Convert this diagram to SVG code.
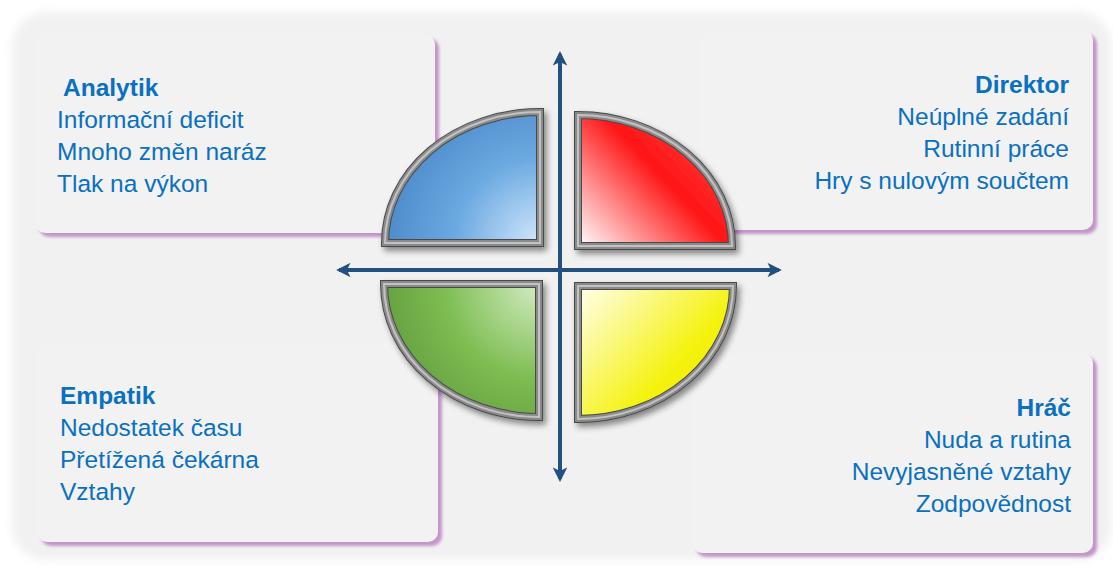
<svg xmlns="http://www.w3.org/2000/svg" width="1113" height="566" viewBox="0 0 1113 566">
  <defs>
    <filter id="panelBlur" x="-5%" y="-5%" width="110%" height="110%">
      <feGaussianBlur stdDeviation="5"/>
    </filter>
    <filter id="boxShadow" x="-5%" y="-5%" width="110%" height="110%">
      <feGaussianBlur stdDeviation="1.8"/>
    </filter>
    <filter id="qShadow" x="-20%" y="-20%" width="140%" height="140%">
      <feGaussianBlur in="SourceAlpha" stdDeviation="3"/>
      <feOffset dx="3" dy="4" result="b"/>
      <feComponentTransfer><feFuncA type="linear" slope="0.45"/></feComponentTransfer>
      <feMerge><feMergeNode/><feMergeNode in="SourceGraphic"/></feMerge>
    </filter>
    <radialGradient id="gBlue" gradientUnits="userSpaceOnUse" cx="540" cy="243" r="190">
      <stop offset="0" stop-color="#d2e8fc"/>
      <stop offset="0.45" stop-color="#6ba9e1"/>
      <stop offset="1" stop-color="#3f7cc0"/>
    </radialGradient>
    <linearGradient id="gRed" gradientUnits="userSpaceOnUse" x1="578" y1="246" x2="700" y2="130">
      <stop offset="0" stop-color="#ffffff"/>
      <stop offset="0.65" stop-color="#ff1414"/>
      <stop offset="1" stop-color="#ff3a3a"/>
    </linearGradient>
    <radialGradient id="gGreen" gradientUnits="userSpaceOnUse" cx="539" cy="284" r="190">
      <stop offset="0" stop-color="#d3ecc2"/>
      <stop offset="0.5" stop-color="#7dbd52"/>
      <stop offset="1" stop-color="#5a9237"/>
    </radialGradient>
    <linearGradient id="gYellow" gradientUnits="userSpaceOnUse" x1="578" y1="286" x2="700" y2="400">
      <stop offset="0" stop-color="#fffff0"/>
      <stop offset="0.75" stop-color="#f5f20e"/>
      <stop offset="1" stop-color="#f0ec00"/>
    </linearGradient>
    <marker id="arrow" viewBox="0 0 10 10" refX="8" refY="5" markerWidth="3.6" markerHeight="3.6" orient="auto" markerUnits="strokeWidth">
      <path d="M0,0 L10,5 L0,10 L2.5,5 Z" fill="#24507f"/>
    </marker>
    <style>
      .box { fill: #f2f2f2; }
      .boxsh { fill: #c494cb; }
      .t { font-family: "Liberation Sans", Arial, sans-serif; font-size: 24.5px; fill: #0a70c0; }
      .h { font-weight: bold; }
      .r { text-anchor: end; }
      .rim0 { fill: none; stroke: #4a4a4a; stroke-width: 8; stroke-linejoin: miter; }
      .rim { fill: none; stroke: #8a8a8a; stroke-width: 6; stroke-linejoin: miter; }
      .rim2 { fill: none; stroke: #c2c2c2; stroke-width: 2; stroke-linejoin: miter; }
      .axis { stroke: #24507f; stroke-width: 4; fill: none; }
    </style>
  </defs>

  <rect x="0" y="0" width="1113" height="566" fill="#ffffff"/>
  <rect x="12" y="12" width="1100" height="548" rx="34" fill="#f1f1f1" filter="url(#panelBlur)"/>

  <g id="analytik">
    <rect class="boxsh" x="39" y="38" width="400" height="199" rx="10" filter="url(#boxShadow)"/>
    <rect class="box" x="35" y="34" width="400" height="199" rx="10"/>
    <text class="t h" x="63" y="96">Analytik</text>
    <text class="t" x="57" y="128">Informační deficit</text>
    <text class="t" x="57" y="160">Mnoho změn naráz</text>
    <text class="t" x="57" y="192">Tlak na výkon</text>
  </g>

  <g id="direktor">
    <rect class="boxsh" x="704" y="34" width="393" height="200" rx="10" filter="url(#boxShadow)"/>
    <rect class="box" x="700" y="30" width="393" height="200" rx="10"/>
    <text class="t h r" x="1069" y="93">Direktor</text>
    <text class="t r" x="1069" y="125">Neúplné zadání</text>
    <text class="t r" x="1069" y="157">Rutinní práce</text>
    <text class="t r" x="1069" y="189">Hry s nulovým součtem</text>
  </g>

  <g id="empatik">
    <rect class="boxsh" x="41" y="346" width="401" height="200" rx="10" filter="url(#boxShadow)"/>
    <rect class="box" x="37" y="342" width="401" height="200" rx="10"/>
    <text class="t h" x="60" y="404">Empatik</text>
    <text class="t" x="60" y="436">Nedostatek času</text>
    <text class="t" x="60" y="468">Přetížená čekárna</text>
    <text class="t" x="60" y="500">Vztahy</text>
  </g>

  <g id="hrac">
    <rect class="boxsh" x="696" y="357" width="401" height="200" rx="10" filter="url(#boxShadow)"/>
    <rect class="box" x="692" y="353" width="401" height="200" rx="10"/>
    <text class="t h r" x="1071" y="416">Hráč</text>
    <text class="t r" x="1071" y="448">Nuda a rutina</text>
    <text class="t r" x="1071" y="480">Nevyjasněné vztahy</text>
    <text class="t r" x="1071" y="512">Zodpovědnost</text>
  </g>

  <g id="quadrant-blue" filter="url(#qShadow)">
    <path d="M540,243 L385,243 A155,131 0 0 1 540,112 Z" fill="url(#gBlue)"/>
    <path class="rim0" d="M540,243 L385,243 A155,131 0 0 1 540,112 Z"/>
    <path class="rim" d="M540,243 L385,243 A155,131 0 0 1 540,112 Z"/>
    <path class="rim2" d="M540,243 L385,243 A155,131 0 0 1 540,112 Z"/>
  </g>
  <g id="quadrant-red" filter="url(#qShadow)">
    <path d="M578,246 L578,115 A154,131 0 0 1 732,246 Z" fill="url(#gRed)"/>
    <path class="rim0" d="M578,246 L578,115 A154,131 0 0 1 732,246 Z"/>
    <path class="rim" d="M578,246 L578,115 A154,131 0 0 1 732,246 Z"/>
    <path class="rim2" d="M578,246 L578,115 A154,131 0 0 1 732,246 Z"/>
  </g>
  <g id="quadrant-green" filter="url(#qShadow)">
    <path d="M539,284 L539,417 A155,133 0 0 1 384,284 Z" fill="url(#gGreen)"/>
    <path class="rim0" d="M539,284 L539,417 A155,133 0 0 1 384,284 Z"/>
    <path class="rim" d="M539,284 L539,417 A155,133 0 0 1 384,284 Z"/>
    <path class="rim2" d="M539,284 L539,417 A155,133 0 0 1 384,284 Z"/>
  </g>
  <g id="quadrant-yellow" filter="url(#qShadow)">
    <path d="M578,286 L733,286 A155,133 0 0 1 578,419 Z" fill="url(#gYellow)"/>
    <path class="rim0" d="M578,286 L733,286 A155,133 0 0 1 578,419 Z"/>
    <path class="rim" d="M578,286 L733,286 A155,133 0 0 1 578,419 Z"/>
    <path class="rim2" d="M578,286 L733,286 A155,133 0 0 1 578,419 Z"/>
  </g>

  <g id="connectors">
    <line class="axis" x1="560" y1="270" x2="560" y2="54" marker-end="url(#arrow)"/>
    <line class="axis" x1="560" y1="270" x2="560" y2="479" marker-end="url(#arrow)"/>
    <line class="axis" x1="560" y1="270" x2="339" y2="270" marker-end="url(#arrow)"/>
    <line class="axis" x1="560" y1="270" x2="779" y2="270" marker-end="url(#arrow)"/>
  </g>
</svg>
